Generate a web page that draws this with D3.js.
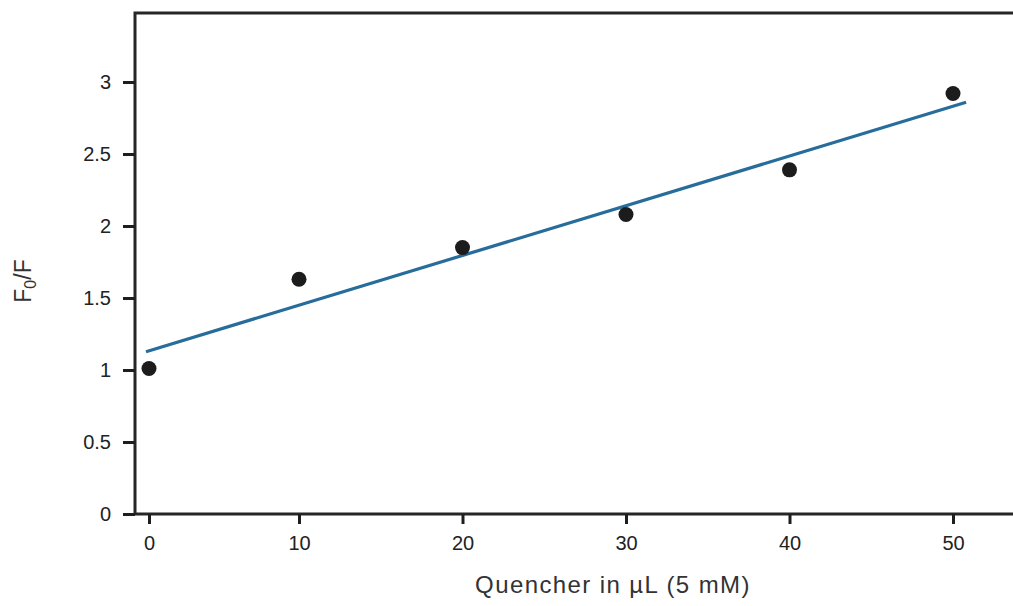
<!DOCTYPE html>
<html>
<head>
<meta charset="utf-8">
<script src="https://cdn.jsdelivr.net/npm/d3@7"></script>
<style>
  html, body { margin: 0; padding: 0; background: #fff; }
  svg { display: block; }
  text { font-family: "Liberation Sans", Arial, sans-serif; }
</style>
</head>
<body>
<svg id="chart" width="1013" height="606"></svg>
<script>
// ---- data ----
const quencherUL = [0, 10, 20, 30, 40, 50];
const f0OverF = [1.01, 1.63, 1.85, 2.08, 2.39, 2.92];
const fitX = [-0.2, 50.8];
const fitY = [1.127, 2.859];
const xTicks = [0, 10, 20, 30, 40, 50];
const yTicks = [0, 0.5, 1, 1.5, 2, 2.5, 3];
const xTitle = "Quencher in µL (5 mM)";

// ---- layout ----
(function () {
const svg = d3.select("#chart");
const W = 1013;
const frameLeft = 135, frameTop = 13, frameBottom = 514;

const x = d3.scaleLinear().domain([0, 10, 50]).range([149, 299, 953]);
const y = d3.scaleLinear().domain([0, 3]).range([frameBottom, 82]);

const ink = "#1e1e1e";

// frame (left, top, bottom; right side runs off the canvas)
svg.append("path")
  .attr("d", `M${W + 5},${frameTop} H${frameLeft} V${frameBottom} H${W + 5}`)
  .attr("fill", "none").attr("stroke", "#262626").attr("stroke-width", 3);

// y axis
const yAxis = svg.append("g")
  .attr("transform", `translate(${frameLeft},0)`)
  .call(d3.axisLeft(y).tickValues(yTicks).tickFormat(d3.format("")).tickSizeInner(12).tickSizeOuter(0).tickPadding(12));
yAxis.select(".domain").remove();
yAxis.selectAll(".tick line").attr("stroke", ink).attr("stroke-width", 3);
yAxis.selectAll(".tick text").attr("fill", "#222").style("font-size", "20px");

// x axis
const xAxis = svg.append("g")
  .attr("transform", `translate(0,${frameBottom})`)
  .call(d3.axisBottom(x).tickValues(xTicks).tickFormat(d3.format("")).tickSizeInner(10).tickSizeOuter(0).tickPadding(12));
xAxis.select(".domain").remove();
xAxis.selectAll(".tick line").attr("stroke", ink).attr("stroke-width", 3);
xAxis.selectAll(".tick text").attr("fill", "#222").style("font-size", "20px");

// fit line
svg.append("path")
  .datum(fitX.map((d, i) => [d, fitY[i]]))
  .attr("d", d3.line().x(d => x(d[0])).y(d => y(d[1])))
  .attr("fill", "none").attr("stroke", "#276c9b").attr("stroke-width", 3.2);

// points
svg.append("g").selectAll("circle")
  .data(quencherUL.map((d, i) => [d, f0OverF[i]]))
  .join("circle")
  .attr("cx", d => x(d[0])).attr("cy", d => y(d[1]))
  .attr("r", 7.5).attr("fill", "#1c1c1c");

// x title
svg.append("text")
  .attr("x", 613).attr("y", 593)
  .attr("text-anchor", "middle")
  .attr("fill", "#333")
  .style("font-size", "24px").style("letter-spacing", "1.4px")
  .text(xTitle);

// y title: F0/F
const yt = svg.append("text")
  .attr("transform", "translate(31,281) rotate(-90)")
  .attr("text-anchor", "middle")
  .attr("fill", "#333")
  .style("font-size", "23px");
yt.append("tspan").text("F");
yt.append("tspan").attr("dy", 5).style("font-size", "16px").text("0");
yt.append("tspan").attr("dy", -5).text("/F");
})();
</script>
</body>
</html>
